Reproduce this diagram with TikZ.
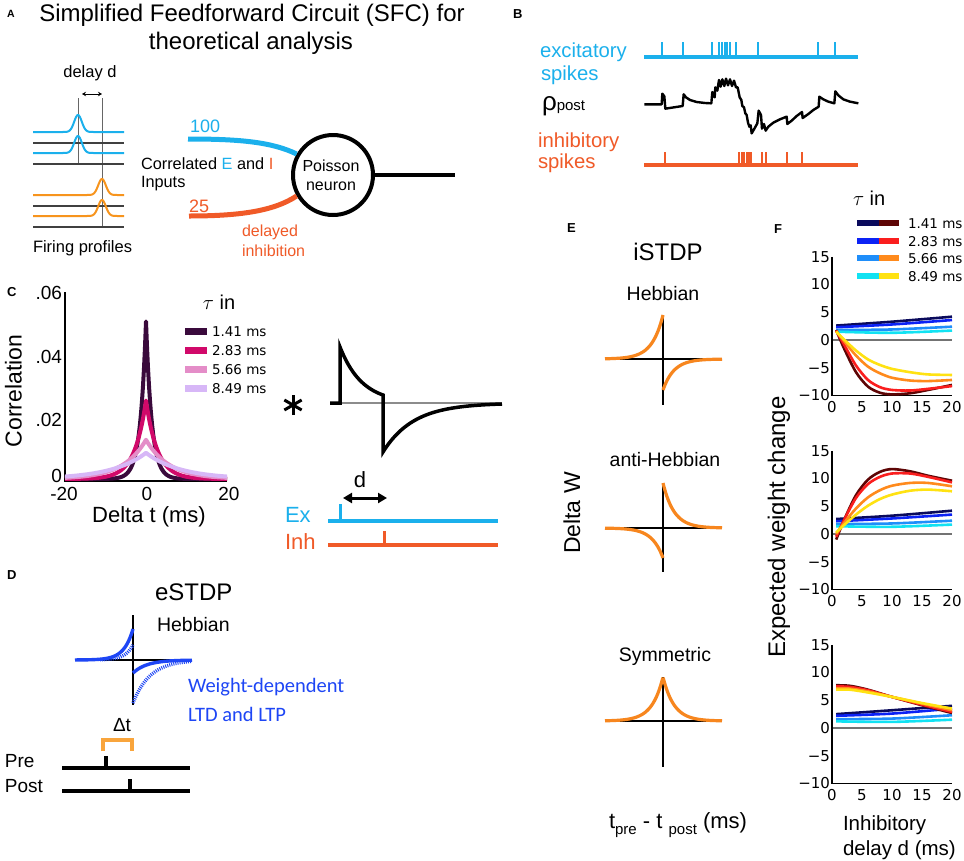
\documentclass[tikz,border=0pt]{standalone}
\usepackage{fontspec}
\setmainfont{Liberation Sans}
\newfontfamily\dvs{DejaVu Sans}
\newfontfamily\clt{Carlito}
\usetikzlibrary{arrows.meta}
\newcommand\fsz[1]{\fontsize{#1}{#1}\selectfont}
\definecolor{cyE}{HTML}{1BB0EC}
\definecolor{inR}{HTML}{F05A28}
\definecolor{orP}{HTML}{F7941D}
\definecolor{orE}{HTML}{F7861E}
\definecolor{blD}{HTML}{1E46F5}
\definecolor{brk}{HTML}{F9A53C}
\definecolor{cA}{HTML}{3A0A3C}
\definecolor{cB}{HTML}{D1096A}
\definecolor{cC}{HTML}{E48DC8}
\definecolor{cD}{HTML}{D7B7F7}
\definecolor{fbA}{HTML}{0A0A5C}
\definecolor{fbB}{HTML}{0C22F5}
\definecolor{fbC}{HTML}{1F8EFA}
\definecolor{fbD}{HTML}{12E2F2}
\definecolor{frA}{HTML}{5E0505}
\definecolor{frB}{HTML}{FA1E1E}
\definecolor{frC}{HTML}{FF8A1C}
\definecolor{frD}{HTML}{FFE212}
\begin{document}
\begin{tikzpicture}[x=1pt,y=-1pt,
  lbl/.style={inner sep=0pt,outer sep=0pt},
  plet/.style={lbl,anchor=base west,font=\bfseries\fsz{13}},
  guide/.style={draw=black!60,line width=0.9pt},
  grayline/.style={draw=black!75,line width=1.5pt},
  cyl/.style={draw=cyE,line width=2pt},
  orl/.style={draw=orP,line width=2pt},
  spk/.style={line width=2.2pt},
  axl/.style={draw=black,line width=1.5pt},
  fcurve/.style={line width=2.6pt},
  ccurve/.style={line width=4pt,line join=round},
  ecurve/.style={draw=orE,line width=3.2pt},
  dcurve/.style={draw=blD,line width=3.4pt},
  tick/.style={lbl,font=\dvs\fsz{15}},
]
\useasboundingbox[fill=white] (0,0) rectangle (964,860);

% ================= Panel A =================
\node[plet,font=\bfseries\fsz{10.5}] (lA) at (7,17) {A};
\node[lbl,anchor=base,font=\fsz{24}] (tA1) at (252,21) {Simplified Feedforward Circuit (SFC) for};
\node[lbl,anchor=base,font=\fsz{24}] (tA2) at (251,49) {theoretical analysis};
\node[lbl,anchor=base,font=\fsz{16.5}] (dly) at (90,77) {delay d};
\coordinate (dlA) at (82,94); \coordinate (dlB) at (102,94);
\draw[{Stealth[length=4pt,width=4.5pt]}-{Stealth[length=4pt,width=4.5pt]},line width=1pt] (dlA) -- (dlB);
\draw[guide] (78,98) -- (78,164);
\draw[guide] (102,98) -- (102,227);
\draw[grayline] (33,143) -- (124,143);
\draw[grayline] (33,164) -- (124,164);
\draw[grayline] (33,206) -- (124,206);
\draw[grayline] (33,227) -- (124,227);
\draw[cyl] (33,132) -- (62,132) -- plot[domain=62:94,samples=60] (\x,{132-17*exp(-0.5*((\x-78)/3.8)^2)}) -- (124,132);
\draw[cyl] (33,153) -- (62,153) -- plot[domain=62:94,samples=60] (\x,{153-17*exp(-0.5*((\x-78)/3.8)^2)}) -- (124,153);
\draw[orl] (33,195) -- (86,195) -- plot[domain=86:118,samples=60] (\x,{195-16*exp(-0.5*((\x-102)/3.8)^2)}) -- (124,195);
\draw[orl] (33,216) -- (86,216) -- plot[domain=86:118,samples=60] (\x,{216-16*exp(-0.5*((\x-102)/3.8)^2)}) -- (124,216);
\node[lbl,anchor=base west,font=\fsz{16.5}] (fp) at (33,252.5) {Firing profiles};

\node[circle,draw,line width=4pt,minimum size=80pt,inner sep=0pt] (neuron) at (333,175) {};
\node[lbl,anchor=base,font=\fsz{16}] (pois) at (331,171) {Poisson};
\node[lbl,anchor=base,font=\fsz{16}] (neur) at (331,190) {neuron};
\coordinate (eStart) at (188,139);
\coordinate (iStart) at (189,216);
\coordinate (outEnd) at (455,175);
\draw[cyE,line width=5pt] (eStart) .. controls (240,139) and (272,142) .. (neuron.150);
\draw[inR,line width=5pt] (iStart) .. controls (240,216) and (274,211) .. (neuron.210);
\draw[black,line width=4pt] (neuron.east) -- (outEnd);
\node[lbl,anchor=base west,font=\fsz{18},text=cyE] (n100) at (190,132.5) {100};
\node[lbl,anchor=base west,font=\fsz{18},text=inR] (n25) at (189,212) {25};
\node[lbl,anchor=base west,font=\fsz{16.3}] (corr) at (141,169) {Correlated \textcolor{cyE}{E} and \textcolor{inR}{I}};
\node[lbl,anchor=base west,font=\fsz{16.3}] (inp) at (141,187.5) {Inputs};
\node[lbl,anchor=base west,font=\fsz{16},text=inR] (dinh1) at (242,236.5) {delayed};
\node[lbl,anchor=base west,font=\fsz{16},text=inR] (dinh2) at (242,256) {inhibition};

% ================= Panel B =================
\node[plet] (lB) at (513,18) {B};
\node[lbl,anchor=base west,font=\fsz{20.3},text=cyE] (exc1) at (540,57) {excitatory};
\node[lbl,anchor=base west,font=\fsz{20.3},text=cyE] (exc2) at (541,80) {spikes};
\node[lbl,anchor=base west] (rho) at (542,110) {{\fsz{26}ρ}{\fsz{15}post}};
\node[lbl,anchor=base west,font=\fsz{20.3},text=inR] (inh1) at (538,147) {inhibitory};
\node[lbl,anchor=base west,font=\fsz{20.3},text=inR] (inh2) at (538,168) {spikes};
\coordinate (exA) at (644,57); \coordinate (exB) at (858,57);
\draw[cyE,line width=4pt] (exA) -- (exB);
\foreach \s in {661.7,683.3,711.7,719.3,722,724.7,727.3,730,736,758.3,818.3,835}
  \draw[cyE,spk] (\s,57) -- (\s,42);
\coordinate (inA) at (644,165); \coordinate (inB) at (858,165);
\draw[inR,line width=4pt] (inA) -- (inB);
\foreach \s in {665,739.3,741.7,744,746.7,748.7,750.7,761.7,765.7,786.7,801.7}
  \draw[inR,spk] (\s,165) -- (\s,152);
\begin{scope}[xshift=480pt,x=0.33333pt,y=-0.33333pt]
\draw[black,line width=2.4pt,line join=round] (493,313) -- (545,313) -- (547,281) -- (553,289) -- (556,326) -- (608,318) -- (611,283) -- (618,292) -- (630,300) -- (650,306) -- (675,309) -- (694,310) -- (697,276) -- (704,292) -- (706,262) -- (712,272) -- (717,240) -- (722,260) -- (727,238) -- (733,258) -- (738,236) -- (744,256) -- (750,238) -- (756,258) -- (762,242) -- (768,262) -- (773,262) -- (779,292) -- (784,300) -- (787,318) -- (792,322) -- (796,340) -- (800,345) -- (804,368) -- (808,380) -- (812,376) -- (815,400) -- (822,388) -- (832,370) -- (836,332) -- (843,345) -- (846,386) -- (852,372) -- (857,392) -- (865,380) -- (880,368) -- (900,358) -- (920,350) -- (922,372) -- (935,362) -- (950,348) -- (966,336) -- (968,354) -- (985,342) -- (1000,330) -- (1016,320) -- (1018,290) -- (1030,298) -- (1045,305) -- (1063,310) -- (1066,274) -- (1075,286) -- (1090,298) -- (1110,305) -- (1135,310);
\end{scope}

% ================= Panel C =================
\node[plet] (lC) at (7,296) {C};
\draw[axl] (65,292) -- (65,481) -- (227,481);
\node[lbl,anchor=base east,font=\fsz{19}] (c06) at (62,299) {.06};
\node[lbl,anchor=base east,font=\fsz{19}] (c04) at (62,363) {.04};
\node[lbl,anchor=base east,font=\fsz{19}] (c02) at (62,426) {.02};
\node[lbl,anchor=base east,font=\fsz{19}] (c00) at (62,482) {0};
\node[lbl,anchor=base,font=\fsz{19}] (cxA) at (64,500) {-20};
\node[lbl,anchor=base,font=\fsz{19}] (cxB) at (147,500) {0};
\node[lbl,anchor=base,font=\fsz{19}] (cxC) at (229,500) {20};
\node[lbl,anchor=base,font=\fsz{22}] (cxl) at (149,522) {Delta t (ms)};
\node[lbl,anchor=base,rotate=90,font=\fsz{23}] (cyl) at (21.5,391) {Correlation};
\begin{scope}[shift={(146pt,-479pt)},x=4.05pt,y=31.5pt]
\draw[cA,ccurve] plot[domain=-20:20,samples=161] (\x,{7.05/1.41*exp(-abs(\x)/1.41)});
\draw[cB,ccurve] plot[domain=-20:20,samples=161] (\x,{7.05/2.83*exp(-abs(\x)/2.83)});
\draw[cC,ccurve] plot[domain=-20:20,samples=161] (\x,{7.05/5.66*exp(-abs(\x)/5.66)});
\draw[cD,ccurve] plot[domain=-20:20,samples=161] (\x,{7.05/8.49*exp(-abs(\x)/8.49)});
\end{scope}
\node[lbl,anchor=base,font=\fsz{20}] (ctau) at (219,309) {$\tau$ in};
\foreach \c/\yy/\lab [count=\i] in {cA/331/1.41 ms,cB/350/2.83 ms,cC/369/5.66 ms,cD/388/8.49 ms}{
  \draw[\c,line width=7pt] (185,\yy) -- (207,\yy);
  \node[lbl,anchor=base west,font=\dvs\fsz{13.5}] (cleg\i) at (212,\yy+5) {\lab};
}
% convolution asterisk
\coordinate (ast) at (293,405);
\foreach \a in {90,30,150}
  \draw[black,line width=3pt] (ast) ++(\a:10) -- ++(\a+180:20);
\coordinate (kA) at (330,403); \coordinate (kB) at (502,403);
\draw[black!45,line width=1.3pt] (kA) -- (kB);
\draw[black,line width=3.5pt,line join=miter] (kA) -- (340,403) -- (340,347) -- plot[domain=340:383,samples=40] (\x,{403-56*exp(-(\x-340)/22.1)}) -- (383,452) -- plot[domain=383:502,samples=60] (\x,{403+49*exp(-(\x-383)/30.6)});
\node[lbl,anchor=base,font=\fsz{22}] (dlab) at (360,487) {d};
\coordinate (daA) at (343,498); \coordinate (daB) at (387,498);
\draw[{Triangle[length=9pt,width=10pt]}-{Triangle[length=9pt,width=10pt]},line width=3pt] (daA) -- (daB);
\node[lbl,anchor=base west,font=\fsz{22},text=cyE] (exl) at (285,522) {Ex};
\node[lbl,anchor=base west,font=\fsz{22},text=inR] (inl) at (285,549) {Inh};
\coordinate (exlA) at (328,521); \coordinate (exlB) at (498,521);
\draw[cyE,line width=4pt] (exlA) -- (exlB);
\draw[cyE,line width=3pt] (340,521) -- (340,504);
\coordinate (inlA) at (328,545); \coordinate (inlB) at (498,545);
\draw[inR,line width=4pt] (inlA) -- (inlB);
\draw[inR,line width=3pt] (384,545) -- (384,531);

% ================= Panel D =================
\node[plet] (lD) at (7,579) {D};
\node[lbl,anchor=base west,font=\fsz{24}] (estdp) at (155,600.5) {eSTDP};
\node[lbl,anchor=base west,font=\fsz{19.5}] (dheb) at (157,631.5) {Hebbian};
\draw[axl] (133,615) -- (133,705);
\draw[axl] (75,660) -- (192,660);
\draw[dcurve,dash pattern=on 1pt off 1.1pt] plot[domain=100:133,samples=30] (\x,{660-15*exp((\x-133)/8)});
\draw[dcurve,dash pattern=on 1pt off 1.1pt] plot[domain=133:192,samples=50] (\x,{660+43*exp(-(\x-133)/17)});
\draw[dcurve] plot[domain=75:133,samples=50] (\x,{660-31*exp((\x-133)/9)});
\draw[dcurve] plot[domain=133:192,samples=50] (\x,{660+13*exp(-(\x-133)/14)});
\node[lbl,anchor=base west,font=\clt\fsz{20.5},text=blD] (wd1) at (188,692) {Weight-dependent};
\node[lbl,anchor=base west,font=\clt\fsz{20.5},text=blD] (wd2) at (188,721.5) {LTD and LTP};
\node[lbl,anchor=base,font=\fsz{19}] (dt) at (122,731.5) {Δt};
\draw[brk,line width=4pt] (103,751) -- (103,740) -- (132,740) -- (132,751);
\node[lbl,anchor=base west,font=\fsz{19}] (pre) at (5,767) {Pre};
\node[lbl,anchor=base west,font=\fsz{19}] (post) at (5,792) {Post};
\coordinate (preA) at (62,768); \coordinate (preB) at (190,768);
\draw[black,line width=4pt] (preA) -- (preB);
\draw[black,line width=3.5pt] (106,768) -- (106,756);
\coordinate (postA) at (62,791); \coordinate (postB) at (190,791);
\draw[black,line width=4pt] (postA) -- (postB);
\draw[black,line width=3.5pt] (130,791) -- (130,779);

% ================= Panel E =================
\node[plet] (lE) at (567,232.5) {E};
\node[lbl,anchor=base,font=\fsz{24}] (istdp) at (668,260) {iSTDP};
\node[lbl,anchor=base,font=\fsz{19.5}] (eheb) at (663,300) {Hebbian};
\draw[axl] (663,315) -- (663,405);
\draw[axl] (605,359) -- (722,359);
\draw[ecurve] plot[domain=605:663,samples=50] (\x,{359-44*exp((\x-663)/11)});
\draw[ecurve] plot[domain=663:722,samples=50] (\x,{359+31*exp(-(\x-663)/11)});
\node[lbl,anchor=base,font=\fsz{19.5}] (eanti) at (665,466) {anti-Hebbian};
\draw[axl] (663,484) -- (663,572);
\draw[axl] (605,528) -- (722,528);
\draw[ecurve] plot[domain=605:663,samples=50] (\x,{528+30*exp((\x-663)/11)});
\draw[ecurve] plot[domain=663:722,samples=50] (\x,{528-45*exp(-(\x-663)/11)});
\node[lbl,anchor=base,font=\fsz{19.5}] (esym) at (665,661.5) {Symmetric};
\draw[axl] (663,677) -- (663,767);
\draw[axl] (605,721) -- (722,721);
\draw[ecurve] plot[domain=605:722,samples=117] (\x,{721-44*exp(-abs(\x-663)/11)});
\node[lbl,anchor=base,rotate=90,font=\fsz{23}] (dW) at (580,513) {Delta W};
\node[lbl,anchor=base west,font=\fsz{22}] (tpp) at (609,828) {t\raisebox{-0.3em}{\fsz{15}pre} - t \raisebox{-0.3em}{\fsz{15}post} (ms)};

% ================= Panel F =================
\node[plet] (lF) at (774,233) {F};
\node[lbl,anchor=base west,font=\fsz{20}] (ftau) at (853,205.5) {$\tau$ in};
\foreach \ca/\cb/\yy/\lab [count=\i] in {fbA/frA/223/1.41 ms,fbB/frB/241/2.83 ms,fbC/frC/258/5.66 ms,fbD/frD/276/8.49 ms}{
  \draw[\ca,line width=6.5pt] (857,\yy) -- (879,\yy);
  \draw[\cb,line width=6.5pt] (879,\yy) -- (899,\yy);
  \node[lbl,anchor=base west,font=\dvs\fsz{13.5}] (fleg\i) at (908,\yy+5.5) {\lab};
}
\foreach \yz [count=\p] in {340,534,728}{
  \draw[black!55,line width=1.5pt] (832,\yz) -- (952,\yz);
  \draw[axl] (832,\yz-83.25) -- (832,\yz+55.5) -- (952,\yz+55.5);
  \foreach \v/\t [count=\k] in {15/15,10/10,5/5,0/0,-5/−5,-10/−10}
    \node[tick,anchor=east] (fy\p-\k) at (830,\yz-5.55*\v) {\t};
  \foreach \d [count=\k] in {0,5,10,15,20}
    \node[tick,anchor=base] (fx\p-\k) at (832+6*\d,\yz+72) {\d};
}
\node[lbl,anchor=base,rotate=90,font=\fsz{24}] (ewc) at (785,527) {Expected weight change};
\node[lbl,anchor=base west,font=\fsz{20.5}] (idl1) at (843,830) {Inhibitory};
\node[lbl,anchor=base west,font=\fsz{20.5}] (idl2) at (843,855) {delay d (ms)};

\begin{scope}[shift={(832pt,-340pt)},x=6pt,y=5.55pt]
\draw[fbA,fcurve] plot[smooth] coordinates {(0.7,2.6) (10,3.3) (20,4.2)};
\draw[fbB,fcurve] plot[smooth] coordinates {(0.7,2.3) (10,2.8) (20,3.6)};
\draw[fbC,fcurve] plot[smooth] coordinates {(0.7,1.8) (10,1.9) (20,2.4)};
\draw[fbD,fcurve] plot[smooth] coordinates {(0.7,1.5) (10,1.3) (20,1.7)};
\draw[frA,fcurve] plot[smooth] coordinates {(0.7,1.8) (2,-1.5) (4,-5.8) (6,-8.4) (8,-9.5) (10,-9.8) (13,-9.6) (16,-9.0) (20,-8.1)};
\draw[frB,fcurve] plot[smooth] coordinates {(0.7,1.7) (2,-0.8) (4,-4.6) (6,-7.2) (8,-8.5) (10,-9.0) (13,-9.1) (16,-8.8) (20,-8.3)};
\draw[frC,fcurve] plot[smooth] coordinates {(0.7,1.6) (2,-0.2) (4,-2.8) (6,-4.8) (8,-6.0) (10,-6.8) (13,-7.3) (16,-7.4) (20,-7.2)};
\draw[frD,fcurve] plot[smooth] coordinates {(0.7,1.5) (2,0.1) (4,-1.9) (6,-3.5) (8,-4.5) (10,-5.2) (13,-5.8) (16,-6.2) (20,-6.3)};
\end{scope}
\begin{scope}[shift={(832pt,-534pt)},x=6pt,y=5.55pt]
\draw[fbA,fcurve] plot[smooth] coordinates {(0.7,2.7) (10,3.3) (20,4.2)};
\draw[fbB,fcurve] plot[smooth] coordinates {(0.7,2.3) (10,2.8) (20,3.5)};
\draw[fbC,fcurve] plot[smooth] coordinates {(0.7,1.8) (10,1.9) (20,2.4)};
\draw[fbD,fcurve] plot[smooth] coordinates {(0.7,1.4) (10,1.3) (20,1.7)};
\draw[frA,fcurve] plot[smooth] coordinates {(0.7,-1.0) (2,2.5) (4,7.0) (6,9.8) (8,11.2) (10,11.7) (13,11.3) (16,10.5) (20,9.6)};
\draw[frB,fcurve] plot[smooth] coordinates {(0.7,-0.5) (2,2.5) (4,6.5) (6,9.0) (8,10.3) (10,10.9) (13,10.9) (16,10.3) (20,9.3)};
\draw[frC,fcurve] plot[smooth] coordinates {(0.7,0) (2,2.0) (4,4.6) (6,6.6) (8,7.9) (10,8.7) (13,9.2) (16,9.2) (20,8.6)};
\draw[frD,fcurve] plot[smooth] coordinates {(0.7,0.3) (2,1.6) (4,3.5) (6,5.1) (8,6.3) (10,7.1) (13,7.8) (16,8.0) (20,7.7)};
\end{scope}
\begin{scope}[shift={(832pt,-728pt)},x=6pt,y=5.55pt]
\draw[fbA,fcurve] plot[smooth] coordinates {(0.7,2.5) (10,3.2) (20,4.0)};
\draw[fbB,fcurve] plot[smooth] coordinates {(0.7,2.2) (10,2.6) (20,3.5)};
\draw[fbC,fcurve] plot[smooth] coordinates {(0.7,1.6) (10,1.7) (20,2.3)};
\draw[fbD,fcurve] plot[smooth] coordinates {(0.7,1.2) (10,1.1) (20,1.5)};
\draw[frA,fcurve] plot[smooth] coordinates {(0.7,7.7) (3,7.6) (6,6.9) (10,5.6) (15,4.1) (20,2.7)};
\draw[frB,fcurve] plot[smooth] coordinates {(0.7,7.5) (3,7.4) (6,6.8) (10,5.6) (15,4.2) (20,2.9)};
\draw[frC,fcurve] plot[smooth] coordinates {(0.7,7.2) (3,7.1) (6,6.6) (10,5.6) (15,4.4) (20,3.2)};
\draw[frD,fcurve] plot[smooth] coordinates {(0.7,6.9) (3,6.9) (6,6.4) (10,5.6) (15,4.5) (20,3.5)};
\end{scope}
\end{tikzpicture}
\end{document}
